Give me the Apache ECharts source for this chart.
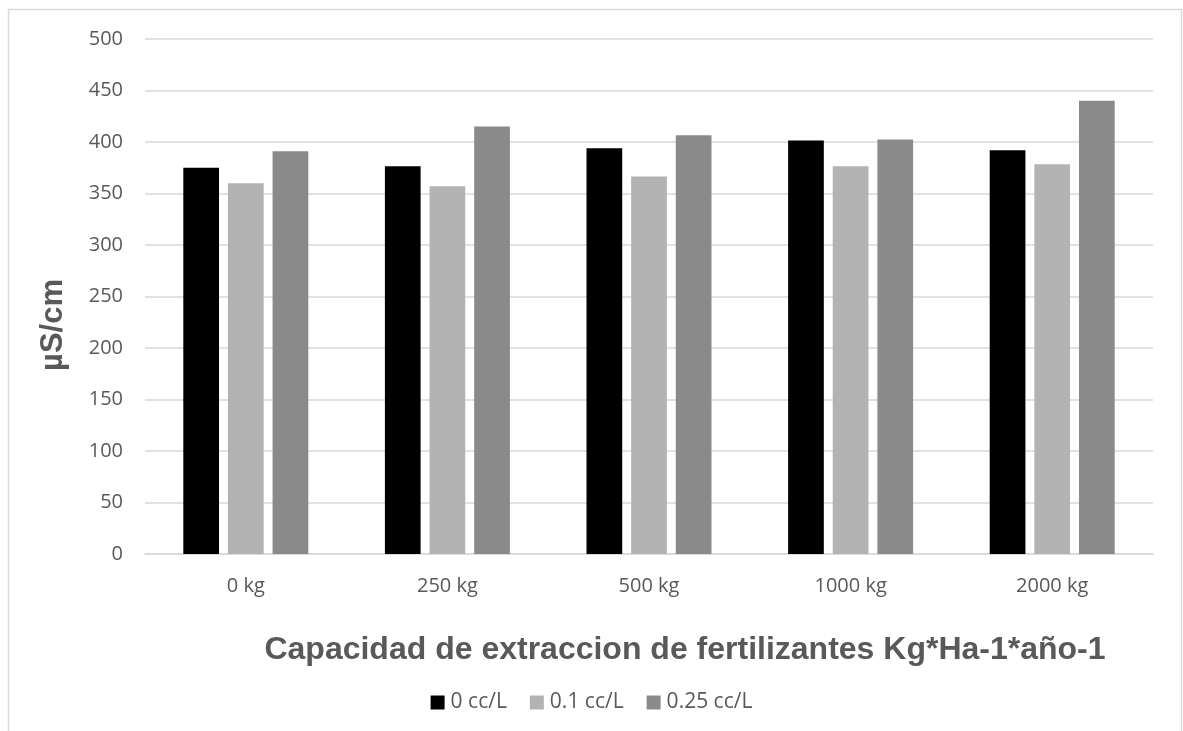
<!DOCTYPE html>
<html>
<head>
<meta charset="utf-8">
<script src="https://cdn.jsdelivr.net/npm/echarts@6/dist/echarts.min.js"></script>
<style>
  html, body { margin: 0; padding: 0; background: #fff; }
  #chart { width: 1183px; height: 731px; }
</style>
</head>
<body>
<div id="chart"></div>
<script>
// categories and series
const categories = ['0 kg', '250 kg', '500 kg', '1000 kg', '2000 kg'];
const seriesNames = ['0 cc/L', '0.1 cc/L', '0.25 cc/L'];
const dose0 = [375, 376.5, 394, 401.5, 392];
const dose01 = [360, 357, 366.5, 376.5, 378.5];
const dose025 = [391, 415, 406.5, 402.5, 440];
const colors = ['#000000', '#b3b3b3', '#8a8a8a'];

const chart = echarts.init(document.getElementById('chart'));

const labelFont = "'Open Sans', 'Noto Sans', sans-serif";
const titleFont = "'Liberation Sans', Arial, sans-serif";

const option = {
  animation: false,
  backgroundColor: '#fff',
  color: colors,
  title: {
    text: 'Capacidad de extraccion de fertilizantes Kg*Ha-1*año-1',
    left: 680,
    top: 629,
    textAlign: 'center',
    textStyle: { fontFamily: titleFont, fontSize: 32, fontWeight: 'bold', color: '#595959' }
  },
  legend: {
    data: seriesNames,
    top: 687,
    left: 'center',
    itemWidth: 14,
    itemHeight: 14,
    itemGap: 23,
    icon: 'rect',
    textStyle: { fontFamily: labelFont, fontSize: 21, color: '#595959', padding: [0, 0, 0, 1] }
  },
  grid: { left: 145, right: 30, top: 39, bottom: 177 },
  xAxis: {
    type: 'category',
    data: categories,
    axisTick: { show: false },
    axisLine: { lineStyle: { color: '#d9d9d9', width: 1.5 } },
    axisLabel: { fontFamily: labelFont, fontSize: 20, color: '#595959', margin: 22 }
  },
  yAxis: {
    type: 'value',
    min: 0,
    max: 500,
    interval: 50,
    axisLine: { show: false },
    axisTick: { show: false },
    axisLabel: { fontFamily: labelFont, fontSize: 20, color: '#595959', margin: 22 },
    splitLine: { lineStyle: { color: '#d9d9d9', width: 1.5 } }
  },
  series: [
    { name: seriesNames[0], type: 'bar', data: dose0, barGap: '25%', barCategoryGap: '38%' },
    { name: seriesNames[1], type: 'bar', data: dose01 },
    { name: seriesNames[2], type: 'bar', data: dose025 }
  ],
  graphic: [
    {
      type: 'rect',
      shape: { x: 8.5, y: 9.5, width: 1173, height: 740 },
      style: { fill: 'none', stroke: '#d9d9d9', lineWidth: 1.5 },
      silent: true
    },
    {
      // y axis title
      type: 'text',
      x: 53,
      y: 325,
      rotation: Math.PI / 2,
      style: {
        text: 'µS/cm',
        fontFamily: titleFont,
        fontSize: 31,
        fontWeight: 'bold',
        fill: '#595959',
        align: 'center',
        verticalAlign: 'middle'
      }
    }
  ]
};

chart.setOption(option);
</script>
</body>
</html>
